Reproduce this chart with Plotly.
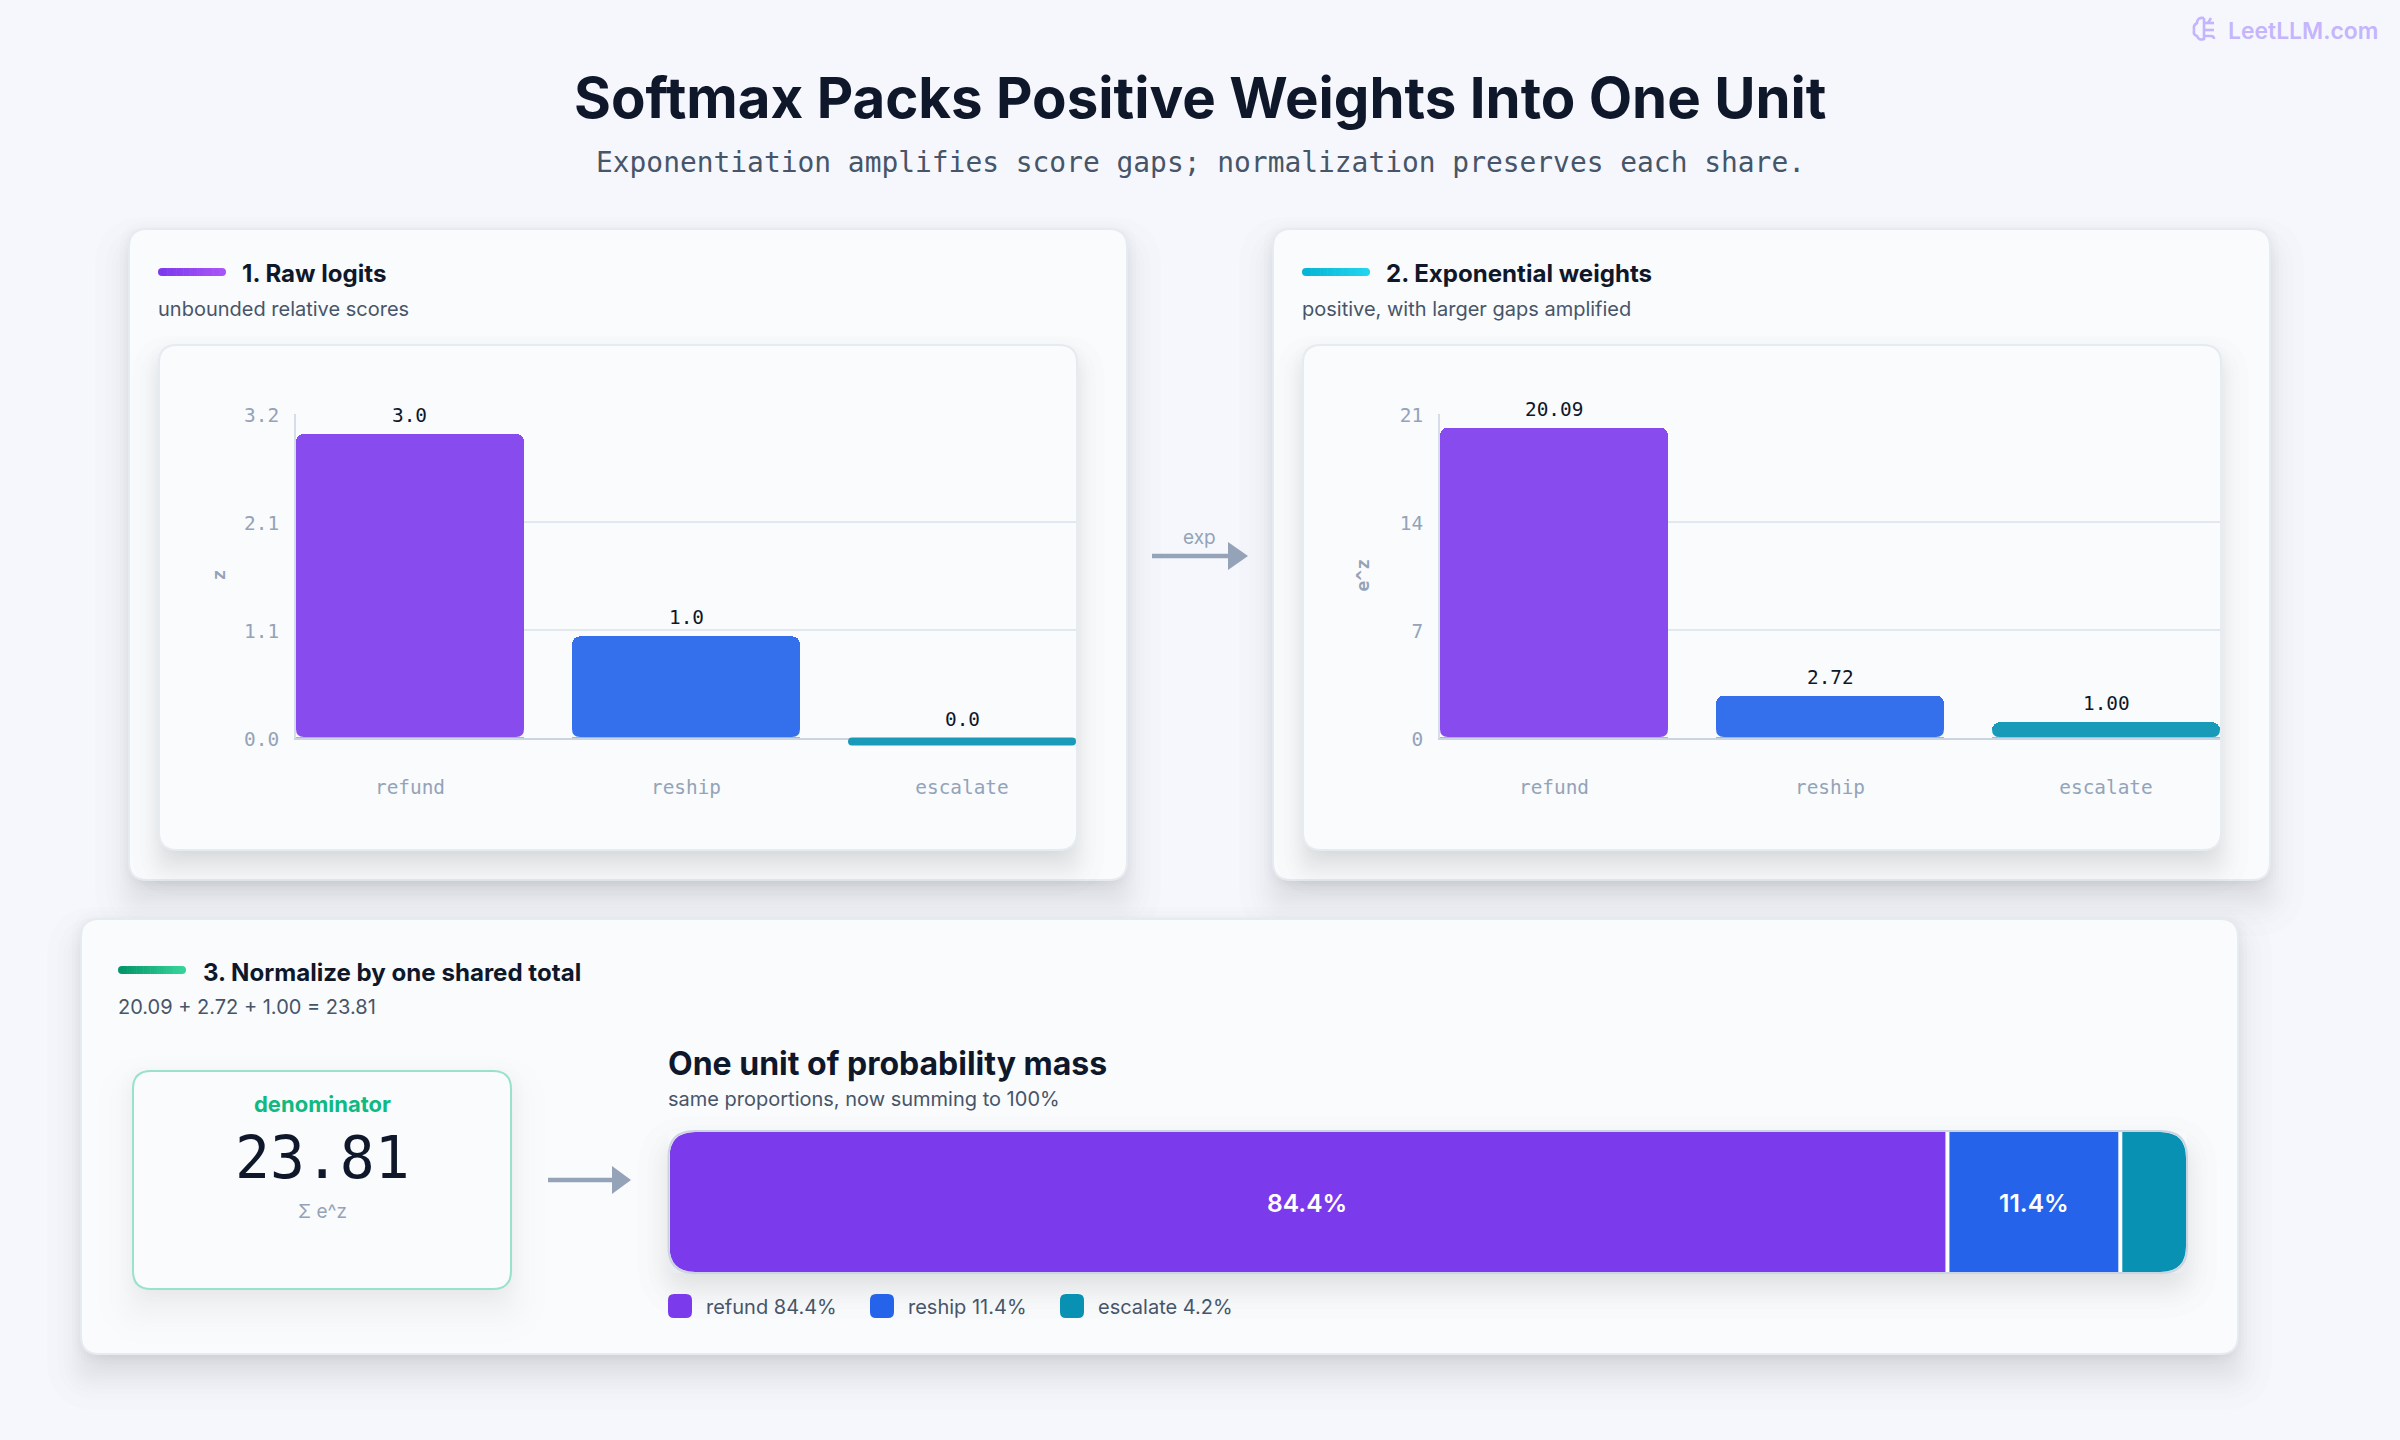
from statistics import NormalDist
import plotly.graph_objects as go

# ---- data ----
categories = ["refund", "reship", "escalate"]
logits = [3.0, 1.0, 0.0]
logit_labels = ["3.0", "1.0", "0.0"]
logit_ticks = [0, 3.2 / 3, 6.4 / 3, 3.2]
logit_tick_text = ["0.0", "1.1", "2.1", "3.2"]
weights = [20.09, 2.72, 1.00]
weight_labels = ["20.09", "2.72", "1.00"]
weight_ticks = [0, 7, 14, 21]
weight_tick_text = ["0", "7", "14", "21"]
shares = [84.4, 11.4, 4.2]
share_labels = ["84.4%", "11.4%", ""]
legend_labels = ["refund 84.4%", "reship 11.4%", "escalate 4.2%"]
denominator = "23.81"

# ---- style ----
W, H = 2400, 1440
SANS = "Inter"
MONO = "DejaVu Sans Mono"
INK = "#0f172a"
SLATE = "#475569"
MUTED = "#94a3b8"
PAGE = "#f6f7fc"
CARD = "#f9fbfd"
EDGE = "#e6ebf2"
BAR_COLORS = ["#884bee", "#3570ec", "#1a9ab9"]
STACK_COLORS = ["#7c3aed", "#2563eb", "#0891b2"]
BAR_WIDTH = 0.826
BAR_RADIUS = 8


def X(px):
    return px / W


def Y(py):
    return 1 - py / H


shapes = []
annotations = []


def rounded_path(x0, y0, x1, y1, r):
    r = max(0.5, min(r, (x1 - x0) / 2, (y1 - y0) / 2))
    pts = [
        ("M", x0 + r, y0), ("L", x1 - r, y0), ("Q", x1, y0, x1, y0 + r),
        ("L", x1, y1 - r), ("Q", x1, y1, x1 - r, y1), ("L", x0 + r, y1),
        ("Q", x0, y1, x0, y1 - r), ("L", x0, y0 + r), ("Q", x0, y0, x0 + r, y0),
    ]
    return path_from(pts) + " Z"


def path_from(cmds):
    out = []
    for c in cmds:
        coords = c[1:]
        pairs = [f"{X(coords[i]):.6f},{Y(coords[i + 1]):.6f}" for i in range(0, len(coords), 2)]
        out.append(c[0] + " " + " ".join(pairs))
    return " ".join(out)


def add_path(path, fill=None, line=None, width=0, layer="below", opacity=1):
    shapes.append(dict(
        type="path", xref="paper", yref="paper", path=path, layer=layer, opacity=opacity,
        fillcolor=fill if fill else "rgba(0,0,0,0)",
        line=dict(color=line if line else "rgba(0,0,0,0)", width=width),
    ))


def add_shadow(x0, y0, x1, y1, r, dy, sigma, alpha, spread=0, layers=18):
    # a blurred drop shadow, built from translucent rounded rectangles
    dist = NormalDist()
    for k in range(layers):
        q = (k + 0.5) / layers
        grow = spread - sigma * dist.inv_cdf(q)
        add_path(
            rounded_path(x0 - grow, y0 + dy - grow, x1 + grow, y1 + dy + grow, r + max(grow, 0)),
            fill="rgb(15,23,42)", opacity=alpha / layers,
        )


def add_card(x0, y0, x1, y1, r, edge=EDGE, fill=CARD, width=2, broad=(22, 20, 0.15, -4), tight=(1, 6, 0.05)):
    add_shadow(x0, y0, x1, y1, r, broad[0], broad[1], broad[2], spread=broad[3])
    add_shadow(x0, y0, x1, y1, r, tight[0], tight[1], tight[2], layers=8)
    add_path(rounded_path(x0, y0, x1, y1, r), fill=fill, line=edge, width=width)


def blend(a, b, t):
    ca = [int(a[i:i + 2], 16) for i in (1, 3, 5)]
    cb = [int(b[i:i + 2], 16) for i in (1, 3, 5)]
    return "rgb(" + ",".join(str(round(p + (q - p) * t)) for p, q in zip(ca, cb)) + ")"


def add_pill(x0, y0, x1, y1, start, end, steps=34):
    # gradient accent: narrow slices, with the two round caps drawn first
    r = (y1 - y0) / 2
    add_path(rounded_path(x0, y0, x0 + 2 * r, y1, r), fill=start)
    add_path(rounded_path(x1 - 2 * r, y0, x1, y1, r), fill=end)
    step = (x1 - x0 - 2 * r) / steps
    for i in range(steps):
        a = x0 + r + i * step
        add_path(rounded_path(a, y0, a + step + 0.6, y1, 0), fill=blend(start, end, (i + 0.5) / steps))


def add_arrow(x0, x1, head_x, y, half=14, thick=4.4):
    add_path(path_from([("M", x0, y - thick / 2), ("L", head_x, y - thick / 2), ("L", head_x, y + thick / 2),
                        ("L", x0, y + thick / 2)]) + " Z", fill=MUTED)
    add_path(path_from([("M", head_x, y - half), ("L", x1, y), ("L", head_x, y + half)]) + " Z", fill=MUTED)


def text(x, y, s, size, color=INK, family=SANS, weight=400, anchor="left", angle=0):
    annotations.append(dict(
        xref="paper", yref="paper", x=X(x), y=Y(y), text=s, showarrow=False,
        xanchor=anchor, yanchor="middle", textangle=angle, borderpad=0, borderwidth=0,
        font=dict(family=family, size=size, color=color, weight=weight),
    ))


# ---- panels ----
add_card(129, 229, 1127, 880, 18)
add_card(1273, 229, 2270, 880, 18)
add_card(81, 919, 2238, 1354, 18)
add_card(159, 345, 1077, 850, 18, broad=(18, 16, 0.12, -3), tight=(1, 6, 0.03))
add_card(1303, 345, 2221, 850, 18, broad=(18, 16, 0.12, -3), tight=(1, 6, 0.03))
add_card(133, 1071, 511, 1289, 18, edge="#99e2c9", broad=(20, 20, 0.09, -3), tight=(1, 8, 0.02))
add_shadow(669, 1132, 2186, 1272, 26, 15, 18, 0.12, spread=-3)

add_pill(158, 268, 226, 276, "#7c3aed", "#a855f7")
add_pill(1302, 268, 1370, 276, "#06b6d4", "#22d3ee")
add_pill(118, 966, 186, 974, "#059669", "#34d399")

add_arrow(1152, 1248, 1228, 556)
add_arrow(548, 631, 612, 1180)

# ---- headings ----
text(1200, 98, "Softmax Packs Positive Weights Into One Unit", 56.4, weight=700, anchor="center")
text(1200, 162, "Exponentiation amplifies score gaps; normalization preserves each share.", 27.9,
     color=SLATE, family=MONO, anchor="center")
text(242, 273, "1. Raw logits", 24.1, weight=700)
text(158, 309, "unbounded relative scores", 20, color=SLATE)
text(1386, 273, "2. Exponential weights", 24.1, weight=700)
text(1302, 309, "positive, with larger gaps amplified", 20, color=SLATE)
text(203, 972, "3. Normalize by one shared total", 24.1, weight=700)
text(118, 1007, "20.09 + 2.72 + 1.00 = 23.81", 20, color=SLATE)
text(668, 1063, "One unit of probability mass", 32, weight=700)
text(668, 1099, "same proportions, now summing to 100%", 20, color=SLATE)
text(1199, 537, "exp", 19, color=MUTED, anchor="center")
text(322, 1104, "denominator", 22, color="#10b981", weight=700, anchor="center")
text(322, 1157.5, denominator, 58, family=MONO, anchor="center")
text(322, 1211, "Σ e^z", 19, color=MUTED, anchor="center")
text(218, 575.5, "z", 18, color=MUTED, family=MONO, weight=700, anchor="center", angle=-90)
text(1362, 575.5, "e^z", 18, color=MUTED, family=MONO, weight=700, anchor="center", angle=-90)
text(2228, 31, "LeetLLM.com", 22.9, color="#c4b5fd", weight=600)

# small brain mark beside the site name
brain = [
    [("M", 2204, 18), ("Q", 2197, 17, 2197, 23), ("Q", 2193, 25, 2194, 30), ("Q", 2193, 35, 2197, 36),
     ("Q", 2199, 41, 2204, 39), ("L", 2204, 18)],
    [("M", 2204, 23), ("L", 2214, 23)],
    [("M", 2204, 30), ("L", 2214, 30)],
    [("M", 2204, 36), ("L", 2211, 36), ("Q", 2214, 36, 2214, 39)],
    [("M", 2208, 23), ("L", 2211, 18)],
]
for stroke in brain:
    add_path(path_from(stroke), line="#c4b5fd", width=2.6)

# ---- charts ----
fig = go.Figure()


def add_columns(values, labels, ticks, tick_text, xa, ya, left, right, y_max):
    fig.add_bar(
        x=categories, y=values, xaxis=xa, yaxis=ya, width=BAR_WIDTH, showlegend=False,
        marker=dict(color=BAR_COLORS, cornerradius=BAR_RADIUS, line=dict(width=0)),
    )
    xkey = "xaxis" + xa[1:]
    ykey = "yaxis" + ya[1:]
    fig.update_layout({
        xkey: dict(
            domain=[X(left), X(right)], anchor=ya, type="category", range=[-BAR_WIDTH / 2, 2 + BAR_WIDTH / 2],
            showline=True, linecolor="#cbd5e1", linewidth=2, showgrid=False, ticks="", layer="below traces",
            tickfont=dict(family=MONO, size=19.4, color=MUTED), ticklabelstandoff=31, automargin=False,
        ),
        ykey: dict(
            domain=[Y(737.5), Y(413.5)], anchor=xa, range=[0, y_max], tickmode="array", tickvals=ticks,
            ticktext=tick_text, showline=True, linecolor="#d5dde8", linewidth=2, showgrid=True,
            gridcolor="#e2e8f0", gridwidth=1.5, zeroline=False, ticks="", layer="below traces",
            tickfont=dict(family=MONO, size=19.4, color=MUTED), ticklabelstandoff=11, ticklabelshift=2,
            automargin=False,
        ),
    })
    for i, (v, lab) in enumerate(zip(values, labels)):
        annotations.append(dict(
            xref=xa, yref=ya, x=categories[i], y=v, yshift=18.5, text=lab, showarrow=False, yanchor="middle",
            font=dict(family=MONO, size=19.4, color=INK),
        ))
        lo, hi = i - BAR_WIDTH / 2, i + BAR_WIDTH / 2
        # the domain reference keeps these free of the subplot's vertical clip
        common = dict(type="path", yref=ya + " domain", ysizemode="pixel", yanchor=0, layer="above",
                      line=dict(width=0))
        if v == 0:
            # a zero score still gets a thin pill hanging under the baseline
            r = 4 / ((right - left) / (2 + BAR_WIDTH))
            pill = (f"M {lo + r},0 L {hi - r},0 Q {hi},0 {hi},-4 Q {hi},-8 {hi - r},-8 "
                    f"L {lo + r},-8 Q {lo},-8 {lo},-4 Q {lo},0 {lo + r},0 Z")
            shapes.append(dict(common, xref=xa, path=pill, fillcolor=BAR_COLORS[i]))
        else:
            # bottom corners: plotly only rounds the far end of a bar
            px_h = v / y_max * 324
            rb = min(BAR_RADIUS, px_h / 2)
            for anchor_x, d in ((lo, 1), (hi, -1)):
                corner = f"M 0,0.4 L {d * rb},0.4 Q 0,0.4 0,{rb + 0.4} Z"
                shapes.append(dict(common, xref=xa, xsizemode="pixel", xanchor=anchor_x,
                                   path=corner, fillcolor=CARD))


add_columns(logits, logit_labels, logit_ticks, logit_tick_text, "x", "y", 296, 1076, 3.2)
add_columns(weights, weight_labels, weight_ticks, weight_tick_text, "x2", "y2", 1440, 2220, 21)

# stacked strip, one bar per share, with its label centred on the segment
cumulative = 0
for share, lab, cat, col in zip(shares, share_labels, categories, STACK_COLORS):
    fig.add_bar(
        x=[share], y=["mass"], name=cat, orientation="h", xaxis="x3", yaxis="y3", width=1, showlegend=False,
        marker=dict(color=col, line=dict(width=0)),
    )
    if lab:
        annotations.append(dict(
            xref="x3", yref="y3", x=cumulative + share / 2, y="mass", xshift=-2, yshift=-1, text=lab,
            showarrow=False, font=dict(family=SANS, size=24.6, color="#ffffff", weight=600),
        ))
    cumulative += share

# white dividers end at each cumulative share
cumulative = 0
for share in shares[:-1]:
    cumulative += share
    shapes.append(dict(
        type="rect", xref="x3", yref="paper", xsizemode="pixel", xanchor=cumulative, x0=-4, x1=0,
        y0=Y(1272), y1=Y(1132), fillcolor="#ffffff", line=dict(width=0), layer="above",
    ))

# round off the stacked strip
SX0, SX1, SY0, SY1, SR = 669.5, 2186, 1132, 1272, 26
for cx, cy, dx, dy, fill in (
    (SX0, SY0, 1, 1, "#f8f9fb"), (SX1, SY0, -1, 1, "#f8f9fb"),
    (SX0, SY1, 1, -1, "#eaecf1"), (SX1, SY1, -1, -1, "#eaecf1"),
):
    add_path(path_from([("M", cx - dx, cy - dy), ("L", cx + dx * SR, cy - dy), ("L", cx + dx * SR, cy),
                        ("Q", cx, cy, cx, cy + dy * SR), ("L", cx - dx, cy + dy * SR)]) + " Z",
             fill=fill, layer="above")
add_path(rounded_path(SX0 - 1, SY0 - 1, SX1 + 1, SY1 + 1, SR), line="#cbd5e1", width=2, layer="above")

# legend row beneath the strip
for x_swatch, label, col in zip((668, 870, 1060), legend_labels, STACK_COLORS):
    add_path(rounded_path(x_swatch, 1294, x_swatch + 24, 1318, 6), fill=col)
    text(x_swatch + 38, 1307, label, 20, color=SLATE)

fig.update_layout(
    width=W, height=H, autosize=False, margin=dict(l=0, r=0, t=0, b=0, pad=0),
    paper_bgcolor=PAGE, plot_bgcolor="rgba(0,0,0,0)", barmode="stack", showlegend=False,
    xaxis3=dict(domain=[X(SX0), X(SX1)], anchor="y3", range=[0, 100], visible=False, automargin=False),
    yaxis3=dict(domain=[Y(SY1), Y(SY0)], anchor="x3", range=[-0.5, 0.5], visible=False, type="category",
                automargin=False),
    shapes=shapes, annotations=annotations,
)

fig.write_html("out.html", config=dict(displayModeBar=False))
